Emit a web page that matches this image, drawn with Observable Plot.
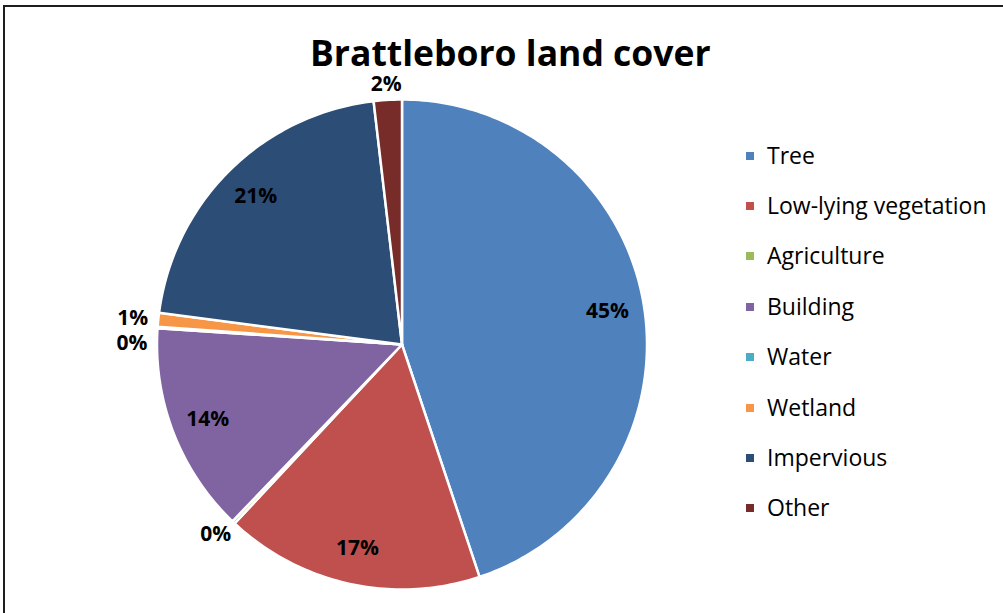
<!DOCTYPE html>
<html>
<head>
<meta charset="utf-8">
<script src="https://cdn.jsdelivr.net/npm/d3@7"></script>
<script src="https://cdn.jsdelivr.net/npm/@observablehq/plot@0.6"></script>
<style>
  html, body { margin: 0; padding: 0; background: #fff; }
  #wrap { position: relative; width: 1003px; height: 613px; overflow: hidden; background: #fff; }
  #frame { position: absolute; left: 3px; top: 5px; width: 1100px; height: 700px; border: 2px solid #1e1e1e; box-sizing: border-box; }
  #chart { position: absolute; left: 0; top: 0; }
  #title { position: absolute; left: 310px; width: 400px; top: 38px; text-align: center; font: bold 35.5px "Open Sans", sans-serif; line-height: 0.8; color: #000; white-space: nowrap; }
  .lg { position: absolute; left: 746px; height: 23px; font: 23px "Open Sans", sans-serif; line-height: 23px; color: #000; white-space: nowrap; }
  .lg .sw { display: inline-block; width: 8px; height: 8px; margin-right: 13px; vertical-align: 4px; }
</style>
</head>
<body>
<div id="wrap">
  <div id="frame"></div>
  <div id="chart"></div>
  <div id="title"></div>
</div>
<script>
// ---- data ----
const titleText = "Brattleboro land cover";
const categories = ["Tree", "Low-lying vegetation", "Agriculture", "Building", "Water", "Wetland", "Impervious", "Other"];
const shares = [44.9, 17.1, 0.2, 13.9, 0.1, 0.9, 21.1, 1.85];
const colors = ["#4F81BD", "#C0504D", "#9BBB59", "#8064A2", "#4BACC6", "#F79646", "#2C4D75", "#772C2A"];

// ---- build slices (clockwise from top) ----
const total = d3.sum(shares);
let acc = 0;
const slices = categories.map((c, i) => {
  const a0 = acc / total * 2 * Math.PI;
  acc += shares[i];
  const a1 = acc / total * 2 * Math.PI;
  return {c, v: shares[i], a0, a1, m: (a0 + a1) / 2};
});

const pts = [];
for (const s of slices) {
  pts.push({c: s.c, x: 0, y: 0});
  const n = Math.max(2, Math.ceil((s.a1 - s.a0) / (Math.PI / 180)));
  for (let k = 0; k <= n; k++) {
    const a = s.a0 + (s.a1 - s.a0) * k / n;
    pts.push({c: s.c, x: Math.sin(a), y: Math.cos(a)});
  }
  pts.push({c: s.c, x: 0, y: 0});
}

// ---- labels ----
const labels = slices.map(s => {
  const ux = Math.sin(s.m), uy = Math.cos(s.m);
  if (s.v >= 5) return {s, x: 0.85 * ux, y: 0.85 * uy, out: false};
  return {s, x: (1.04 + 0.065) * ux, y: (1.025 + 0.041) * uy, out: true};
});
const outs = labels.filter(d => d.out).sort((a, b) => b.y - a.y);
for (let i = 1; i < outs.length; i++) {
  const p = outs[i - 1], q = outs[i];
  if (Math.abs(p.x - q.x) < 0.2 && q.y > p.y - 0.104) q.y = p.y - 0.104;
}

const R = 245, cx = 401.5, cy = 344, W = 1003, H = 613;
const chart = Plot.plot({
  width: W, height: H,
  marginLeft: cx - R, marginRight: W - (cx + R),
  marginTop: cy - R, marginBottom: H - (cy + R),
  x: {domain: [-1, 1], axis: null},
  y: {domain: [-1, 1], axis: null},
  color: {domain: categories, range: colors},
  style: {background: "transparent", overflow: "visible"},
  marks: [
    Plot.line(pts, {x: "x", y: "y", z: "c", fill: "c", stroke: "white", strokeWidth: 2.5, strokeLinejoin: "round", curve: "linear"}),
    Plot.text(labels, {x: "x", y: "y", text: d => Math.round(d.s.v) + "%", fontWeight: "bold", fontSize: 21, fontFamily: "Open Sans", fill: "black", textAnchor: "middle", lineAnchor: "middle"})
  ]
});
document.getElementById("chart").appendChild(chart);
document.getElementById("title").textContent = titleText;

// ---- legend ----
const wrap = document.getElementById("wrap");
categories.forEach((c, i) => {
  const row = document.createElement("div");
  row.className = "lg";
  row.style.top = (143.6 + i * 50.4) + "px";
  const sw = document.createElement("span");
  sw.className = "sw";
  sw.style.background = colors[i];
  row.appendChild(sw);
  row.appendChild(document.createTextNode(c));
  wrap.appendChild(row);
});
</script>
</body>
</html>
